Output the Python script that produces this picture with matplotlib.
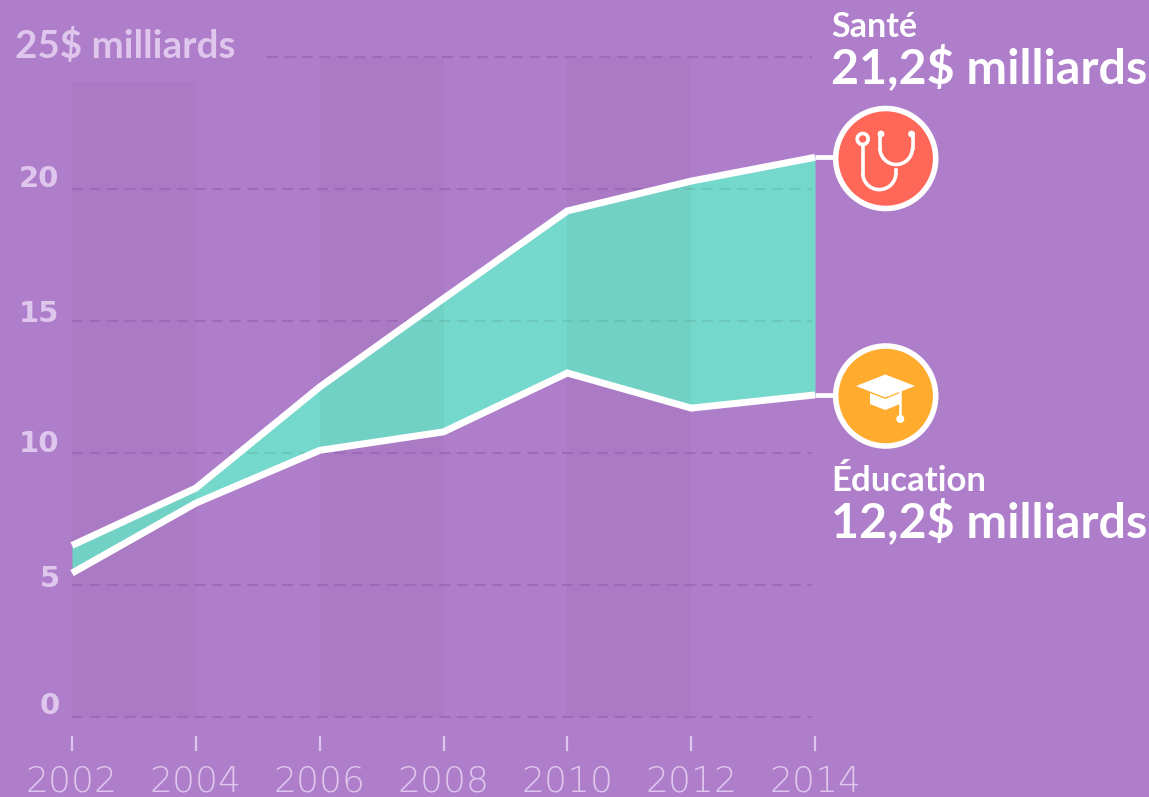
import matplotlib
matplotlib.use('Agg')
import matplotlib.pyplot as plt
from matplotlib.patches import Circle, Polygon, Arc

# ============================================================
# DATA
# ============================================================
years = [2002, 2004, 2006, 2008, 2010, 2012, 2014]
sante = [6.5, 8.67, 12.5, 15.85, 19.17, 20.3, 21.2]
education = [5.45, 8.1, 10.1, 10.8, 13.03, 11.7, 12.2]
y_ticks = [0, 5, 10, 15, 20]
# the reference font has old-style figures, each sits at its own height
y_tick_shift = [0.42, 0.23, 0.33, 0.27, 0.38]
band_spans = [(2002, 2004, 24.05), (2006, 2008, 25), (2010, 2012, 25)]

BG = '#AE7ECB'
BAND = '#935D88'
GRID = '#9A68B6'
TEAL = '#75D8CC'
TEAL_BAND = '#5FB0A0'
LABEL = '#DFC6EC'
WHITE = '#FFFFFF'
RED = '#FF6858'
ORANGE = '#FFAC2E'

fig = plt.figure(figsize=(11.49, 7.97), dpi=100, facecolor=BG)

# main axes fills the figure, 61.92 px per year and 26.4 px per unit
ax = fig.add_axes([0, 0, 1, 1])
ax.set_xlim(2002 - 72 / 61.92, 2002 + (1149 - 72) / 61.92)
ax.set_ylim(-80 / 26.4, 717 / 26.4)
ax.axis('off')

for x0, x1, top in band_spans:
    ax.fill_between([x0, x1], 0, top, color=BAND, alpha=0.1, lw=0, zorder=1)

for v in y_ticks:
    ax.plot([2002, 2013.95], [v, v], color=GRID, lw=1.5, dashes=(5.2, 3.2), alpha=0.85, zorder=1.5)
ax.plot([2005.15, 2013.95], [25, 25], color=GRID, lw=1.5, dashes=(5.2, 3.2), alpha=0.85, zorder=1.5)

area = ax.fill_between(years, education, sante, color=TEAL, lw=0, zorder=2)

# darker stripes of the bands inside the teal area
for x0, x1, top in band_spans:
    band = ax.fill_between([x0, x1], 0, top, color=TEAL_BAND, alpha=0.17, lw=0, zorder=2.5)
    band.set_clip_path(area.get_paths()[0], ax.transData)

# faint trace of the dashes through the teal area
for v in y_ticks:
    trace, = ax.plot([2002, 2013.95], [v, v], color=TEAL_BAND, lw=1.5, dashes=(5.2, 3.2), alpha=0.4, zorder=3)
    trace.set_clip_path(area.get_paths()[0], ax.transData)

for v, shift in zip(y_ticks, y_tick_shift):
    ax.text(2001.8, v + shift, str(v), ha='right', va='center', color=LABEL,
            fontsize=21, family='DejaVu Sans', weight='bold', zorder=5)

for vals in (sante, education):
    ax.plot(years, vals, color=WHITE, lw=5.0, solid_joinstyle='miter', solid_capstyle='butt', zorder=4)
    ax.plot([2014, 2014.4], [vals[-1], vals[-1]], color=WHITE, lw=3.4, solid_capstyle='butt', zorder=4)

for yr in years:
    ax.plot([yr, yr], [-0.75, -1.25], color=LABEL, lw=1.6, zorder=3)
    ax.text(yr, -2.45, str(yr), ha='center', va='center', color=LABEL,
            fontsize=26, family='DejaVu Sans', weight='ultralight')

# overlay in pixel coordinates for labels and icons
ov = fig.add_axes([0, 0, 1, 1])
ov.set_xlim(0, 1149)
ov.set_ylim(797, 0)
ov.axis('off')
ov.patch.set_alpha(0)

ov.text(15, 46, '25$ milliards', color=LABEL, fontsize=27.8, family='Lato', weight='bold', va='center')
ov.text(831, 27, 'Santé', color=WHITE, fontsize=24.5, family='Lato', weight='bold', va='center')
ov.text(831, 68, '21,2$ milliards', color=WHITE, fontsize=34.8, family='Lato', weight='bold', va='center')
ov.text(831, 481, 'Éducation', color=WHITE, fontsize=25, family='Lato', weight='bold', va='center')
ov.text(831, 522, '12,2$ milliards', color=WHITE, fontsize=34.8, family='Lato', weight='bold', va='center')

ov.add_patch(Circle((885.7, 158.5), 50, fc=RED, ec=WHITE, lw=4.0, zorder=5))
ov.add_patch(Circle((885.7, 396), 50, fc=ORANGE, ec=WHITE, lw=4.0, zorder=5))

# stethoscope
lw_icon = 2.6
ov.add_patch(Circle((862.7, 139), 5.5, fc='none', ec=WHITE, lw=lw_icon, zorder=6))
ov.plot([862.7, 862.7], [145, 173], color=WHITE, lw=lw_icon, zorder=6)
ov.add_patch(Arc((879.3, 173), 33.2, 33.2, theta1=0, theta2=180, ec=WHITE, lw=lw_icon, zorder=6))
ov.plot([896, 896], [173, 170], color=WHITE, lw=lw_icon, zorder=6)
ov.plot([880, 880], [134, 148], color=WHITE, lw=lw_icon, zorder=6)
ov.plot([912.5, 912.5], [134, 148], color=WHITE, lw=lw_icon, zorder=6)
ov.add_patch(Arc((896.2, 148), 32.6, 33, theta1=0, theta2=180, ec=WHITE, lw=lw_icon, zorder=6))
ov.add_patch(Circle((881, 134), 3.4, fc=WHITE, ec='none', zorder=6))
ov.add_patch(Circle((911.5, 134), 3.4, fc=WHITE, ec='none', zorder=6))

# graduation cap
ov.add_patch(Polygon([(856, 386), (885.3, 374.5), (915, 386), (885.3, 397.5)], fc=WHITE, ec='none', zorder=6))
ov.add_patch(Polygon([(870, 393), (885.3, 399), (900, 393), (900, 404), (885.3, 410), (870, 404)],
                     fc=WHITE, ec='none', zorder=6))
ov.plot([900, 900], [390, 418], color=WHITE, lw=1.8, zorder=6)
ov.add_patch(Circle((900.3, 419), 4, fc=WHITE, ec='none', zorder=6))

fig.savefig('out.png', dpi=100, facecolor=BG)
